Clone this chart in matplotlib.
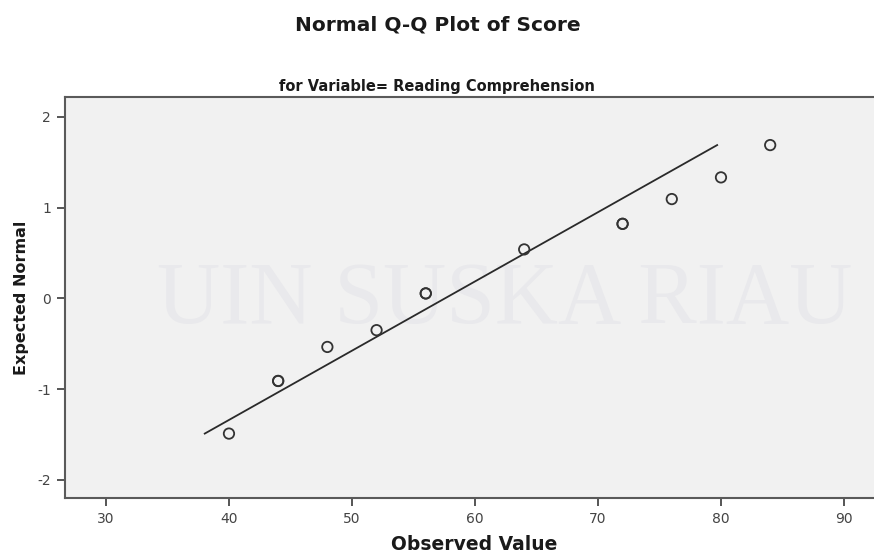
import matplotlib
matplotlib.use("Agg")
import matplotlib.pyplot as plt
import numpy as np

observed = [40, 44, 44, 48, 52, 56, 56, 64, 72, 72, 76, 80, 84]
expected = [-1.49, -0.91, -0.91, -0.535, -0.35, 0.055, 0.055, 0.54, 0.822, 0.822, 1.095, 1.334, 1.69]
line_mean = 57.55
line_sd = 13.1

x_ticks = [30, 40, 50, 60, 70, 80, 90]
y_ticks = [-2, -1, 0, 1, 2]

title = "Normal Q-Q Plot of Score"
subtitle = "for Variable= Reading Comprehension"
xlabel = "Observed Value"
ylabel = "Expected Normal"

plt.rcParams['font.family'] = ['DejaVu Sans']

fig = plt.figure(figsize=(8.74, 5.55), dpi=100)
fig.patch.set_facecolor('white')
ax = fig.add_axes([65/874, 1-498/555, 1-65/874, (498-97)/555])
ax.set_facecolor('#f1f1f1')

# watermark-like faint text (behind the marks)
ax.text(505/874, 1-302/555, "UIN SUSKA RIAU", family='Liberation Serif', fontsize=63,
        color='#e9e9ec', ha='center', va='center', zorder=1,
        transform=fig.transFigure)

ax.set_xlim(26.67, 92.44)
ax.set_ylim(-2.2, 2.22)

y0, y1 = min(expected), max(expected)
ax.plot([line_mean + line_sd*y0, line_mean + line_sd*y1], [y0, y1],
        color='#2a2a2a', lw=1.3, zorder=3)
ax.scatter(observed, expected, s=56, facecolors='none', edgecolors='#333333',
           linewidths=1.3, zorder=4)

ax.set_xticks(x_ticks)
ax.set_yticks(y_ticks)
ax.set_xticklabels([str(v) for v in x_ticks])
ax.set_yticklabels([str(v) for v in y_ticks])
ax.tick_params(direction='out', length=6, width=1.4, color='#555555',
               labelcolor='#444444', labelsize=10, pad=4)

for s in ['left', 'bottom', 'top']:
    ax.spines[s].set_color('#5a5a5a')
    ax.spines[s].set_linewidth(1.5)
ax.spines['right'].set_visible(False)

fig.text(438/874, 1-25/555, title, ha='center', va='center', fontsize=14.5,
         fontweight='bold', color='#1a1a1a')
fig.text(437/874, 1-86/555, subtitle, ha='center', va='center', fontsize=10.5,
         fontweight='bold', color='#1a1a1a')
fig.text(474/874, 1-544/555, xlabel, ha='center', va='center', fontsize=13.5,
         fontweight='bold', color='#1a1a1a')
fig.text(21.5/874, 1-298/555, ylabel, ha='center', va='center', fontsize=11.5,
         fontweight='bold', color='#1a1a1a', rotation=90)

fig.savefig("out.png", dpi=100)
